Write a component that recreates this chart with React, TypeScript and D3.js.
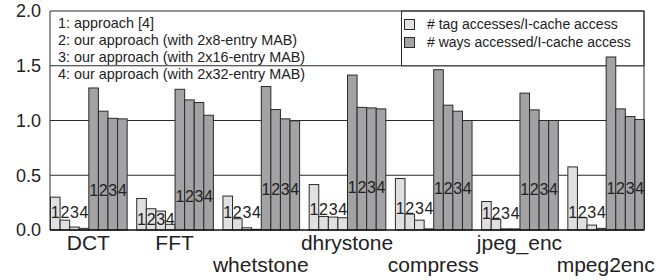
import React from "react";
import { scaleBand, scaleLinear } from "d3";

const width = 670;
const height = 280;
const margin = { top: 11, right: 26, bottom: 50, left: 50 };

// benchmarks and which row their name sits on (0 = upper, 1 = lower)
const benchmarks = ["DCT", "FFT", "whetstone", "dhrystone", "compress", "jpeg_enc", "mpeg2enc"];
const nameRow = [0, 0, 1, 0, 1, 0, 1];

// # tag accesses / I-cache access, approaches 1..4
const tagAccesses = [
  [0.3, 0.09, 0.027, 0.015],
  [0.288, 0.194, 0.173, 0.052],
  [0.31, 0.103, 0.02, 0.006],
  [0.415, 0.124, 0.118, 0.112],
  [0.47, 0.145, 0.09, 0.01],
  [0.26, 0.097, 0.01, 0.01],
  [0.576, 0.112, 0.045, 0.015],
];

// # ways accessed / I-cache access, approaches 1..4
const waysAccessed = [
  [1.297, 1.085, 1.02, 1.015],
  [1.285, 1.188, 1.164, 1.048],
  [1.31, 1.1, 1.015, 0.997],
  [1.415, 1.12, 1.115, 1.106],
  [1.464, 1.14, 1.085, 1.0],
  [1.25, 1.097, 1.0, 1.0],
  [1.58, 1.106, 1.036, 1.009],
];

// where the "1234" markers sit, in axis units
const tagLabelAt = [0.166, 0.1, 0.164, 0.188, 0.2, 0.155, 0.164];
const waysLabelAt = [0.364, 0.309, 0.373, 0.39, 0.38, 0.373, 0.382];

const yTicks = [0, 0.5, 1.0, 1.5, 2.0];
const gridTicks = [0.5, 1.0, 1.5];

const approaches = [
  "1: approach [4]",
  "2: our approach (with 2x8-entry MAB)",
  "3: our approach (with 2x16-entry MAB)",
  "4: our approach (with 2x32-entry MAB)",
];
const seriesNames = ["# tag accesses/I-cache access", "# ways accessed/I-cache access"];

const lightFill = "#e0e0e0";
const darkFill = "#a3a3a6";
const ink = "#2a2a2a";
const font = "'Liberation Sans', Arial, Helvetica, sans-serif";

const barKeys = ["t0", "t1", "t2", "t3", "w0", "w1", "w2", "w3"];

const App = () => {
  const x0 = margin.left;
  const x1 = width - margin.right;
  const yBottom = height - margin.bottom + 0; // 230

  const groupScale = scaleBand()
    .domain(benchmarks)
    .range([x0, x1])
    .paddingInner(1 / 9)
    .paddingOuter(0);

  const barScale = scaleBand().domain(barKeys).range([0, groupScale.bandwidth()]).padding(0);

  const yScale = scaleLinear().domain([0, 2]).range([yBottom, margin.top]);

  return (
    <svg
      width={width}
      height={height}
      style={{ position: "absolute", left: 0, top: 0, background: "white" }}
      fontFamily={font}
    >
      {/* grid */}
      {gridTicks.map((t) => (
        <line key={t} x1={x0} x2={x1} y1={yScale(t)} y2={yScale(t)} stroke={ink} strokeWidth={1} />
      ))}

      {/* approach legend text */}
      {approaches.map((a, i) => (
        <text key={a} x={58} y={27.5 + i * 17} fontSize={14.4} fill="#222">
          {a}
        </text>
      ))}

      {/* series legend */}
      <rect x={401.5} y={margin.top} width={x1 - 401.5} height={yScale(1.5) - margin.top} fill="white" stroke={ink} />
      {seriesNames.map((s, i) => (
        <g key={s}>
          <rect x={404.5} y={19.5 + i * 18} width={10} height={10} fill={i === 0 ? lightFill : darkFill} stroke={ink} />
          <text x={427} y={29 + i * 18} fontSize={14} fill="#222">
            {s}
          </text>
        </g>
      ))}

      {/* bars */}
      {benchmarks.map((b, i) => {
        const gx = groupScale(b) as number;
        const vals = [...tagAccesses[i], ...waysAccessed[i]];
        return (
          <g key={b} transform={`translate(${gx},0)`}>
            {vals.map((v, j) => (
              <rect
                key={barKeys[j]}
                x={(barScale(barKeys[j]) as number) + 0.5}
                y={yScale(v)}
                width={barScale.bandwidth()}
                height={yBottom - yScale(v)}
                fill={j < 4 ? lightFill : darkFill}
                stroke={ink}
                strokeWidth={1}
              />
            ))}
            {vals.map((v, j) => (
              <text
                key={"l" + barKeys[j]}
                x={(barScale(barKeys[j]) as number) + barScale.bandwidth() / 2 + 0.5}
                y={yScale(j < 4 ? tagLabelAt[i] : waysLabelAt[i])}
                dy="0.36em"
                textAnchor="middle"
                fontSize={16}
                fill="#222"
              >
                {(j % 4) + 1}
              </text>
            ))}
            <text
              x={groupScale.bandwidth() / 2}
              y={nameRow[i] === 0 ? 250 : 272}
              textAnchor="middle"
              fontSize={21}
              fill="#222"
            >
              {b}
            </text>
          </g>
        );
      })}

      {/* frame */}
      <path d={`M${x0},${yBottom}V${margin.top}H${x1}V${yBottom}`} fill="none" stroke={ink} strokeWidth={1} />
      <line x1={x0} x2={x1} y1={yBottom} y2={yBottom} stroke="#111" strokeWidth={1.5} />

      {/* y axis labels */}
      {yTicks.map((t) => (
        <text key={t} x={41} y={yScale(t)} dy="0.36em" textAnchor="end" fontSize={18} fill="#222">
          {t.toFixed(1)}
        </text>
      ))}
    </svg>
  );
};

export default App;
